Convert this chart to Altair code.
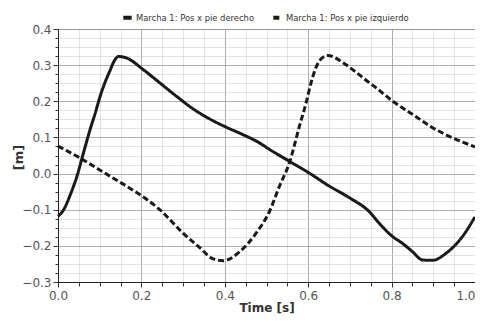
import altair as alt
import pandas as pd
import numpy as np

# Right foot (solid)
t_right = [0.0, 0.013, 0.029, 0.045, 0.061, 0.077, 0.090, 0.100, 0.112, 0.124, 0.135, 0.145,
           0.164, 0.204, 0.244, 0.284, 0.324, 0.364, 0.404, 0.443, 0.483, 0.507, 0.555,
           0.603, 0.651, 0.699, 0.746, 0.770, 0.802, 0.826, 0.850, 0.874, 0.898, 0.930, 0.970, 1.0]
y_right = [-0.118, -0.101, -0.060, -0.009, 0.057, 0.122, 0.170, 0.210, 0.250, 0.283, 0.312, 0.324,
           0.320, 0.288, 0.251, 0.214, 0.179, 0.151, 0.128, 0.108, 0.085, 0.067, 0.034,
           0.001, -0.035, -0.067, -0.105, -0.137, -0.174, -0.193, -0.216, -0.239, -0.240, -0.221, -0.174, -0.120]

# Left foot (dashed)
t_left = [0.0, 0.053, 0.100, 0.140, 0.180, 0.216, 0.244, 0.300, 0.340, 0.372, 0.396, 0.436,
          0.475, 0.507, 0.531, 0.555, 0.579, 0.595, 0.607, 0.627, 0.647, 0.683, 0.715, 0.746,
          0.762, 0.802, 0.850, 0.898, 0.946, 1.0]
y_left = [0.076, 0.043, 0.010, -0.018, -0.046, -0.074, -0.100, -0.165, -0.205, -0.236, -0.241, -0.216,
          -0.165, -0.105, -0.035, 0.030, 0.131, 0.196, 0.252, 0.312, 0.327, 0.307, 0.280, 0.252,
          0.238, 0.201, 0.164, 0.127, 0.099, 0.074]

series = ["Marcha 1: Pos x pie derecho", "Marcha 1: Pos x pie izquierdo"]

x_major = [0.0, 0.2, 0.4, 0.6, 0.8, 1.0]
x_minor = [round(v, 3) for v in np.arange(0.0, 1.0001, 0.05)]
y_major = [-0.3, -0.2, -0.1, 0.0, 0.1, 0.2, 0.3, 0.4]
y_minor = [round(v, 3) for v in np.arange(-0.3, 0.4001, 0.025)]

df = pd.concat([
    pd.DataFrame({"t": t_right, "y": y_right, "s": series[0], "o": range(len(t_right))}),
    pd.DataFrame({"t": t_left, "y": y_left, "s": series[1], "o": range(len(t_left))}),
])

FONT = "DejaVu Sans"
xs = alt.Scale(domain=[0, 1], nice=False, zero=False)
ys = alt.Scale(domain=[-0.3, 0.4], nice=False, zero=False)

minor = alt.Chart(df).mark_point(opacity=0).encode(
    x=alt.X("t:Q", scale=xs, axis=alt.Axis(
        orient="bottom", values=x_minor, labels=False, title=None, domain=False,
        grid=True, gridColor="#c8c8c8", gridDash=[1, 1], gridWidth=1,
        tickSize=4, tickColor="#333333")),
    y=alt.Y("y:Q", scale=ys, axis=alt.Axis(
        orient="left", values=y_minor, labels=False, title=None, domain=False,
        grid=True, gridColor="#c8c8c8", gridDash=[1, 1], gridWidth=1,
        tickSize=3, tickColor="#333333")),
)

lines = alt.Chart(df).mark_line(strokeWidth=3, interpolate="monotone", color="#1a1a1a").encode(
    x=alt.X("t:Q", scale=xs, axis=alt.Axis(
        orient="bottom", values=x_major, format=".1f", title="Time [s]",
        grid=True, gridColor="#7a7a7a", gridDash=[1, 1], gridWidth=1,
        tickSize=5, tickColor="#333333", domainColor="#222222",
        labelFont=FONT, labelFontSize=12, labelColor="#555555", labelPadding=3,
        labelFlush=False,
        labelAlign=alt.ExprRef(expr="datum.value >= 1 ? 'right' : 'center'"),
        titleFont=FONT, titleFontSize=12, titleFontWeight="bold", titleColor="#333333",
        titlePadding=1)),
    y=alt.Y("y:Q", scale=ys, axis=alt.Axis(
        orient="left", values=y_major, format=".1f", title="[m]",
        grid=True, gridColor="#7a7a7a", gridDash=[1, 1], gridWidth=1,
        tickSize=5, tickColor="#333333", domainColor="#222222",
        labelFont=FONT, labelFontSize=12, labelColor="#555555", labelPadding=2,
        labelFlush=False,
        titleFont=FONT, titleFontSize=13, titleFontWeight="bold", titleColor="#333333",
        titleX=-40, titleY=128, titleAngle=270, titleAlign="center", titleBaseline="middle")),
    strokeDash=alt.StrokeDash("s:N", scale=alt.Scale(domain=series, range=[[1, 0], [6, 3]]),
        legend=alt.Legend(
            title=None, orient="none", legendX=63, legendY=-18, direction="horizontal",
            symbolType="stroke", symbolStrokeWidth=4, symbolSize=70,
            symbolStrokeColor="#1a1a1a", labelFont=FONT, labelFontSize=8.4,
            labelColor="#333333", columnPadding=10, labelOffset=2)),
    order="o:Q",
)

chart = alt.layer(minor, lines).resolve_axis(x="independent", y="independent").properties(
    width=417, height=253,
    autosize=alt.AutoSizeParams(type="none"),
    padding={"left": 50, "top": 21, "right": 0, "bottom": 32},
).configure_view(stroke="#333333", strokeWidth=1, strokeDash=[1, 1])

chart.save("out.html", embed_options={"renderer": "svg", "actions": False})
